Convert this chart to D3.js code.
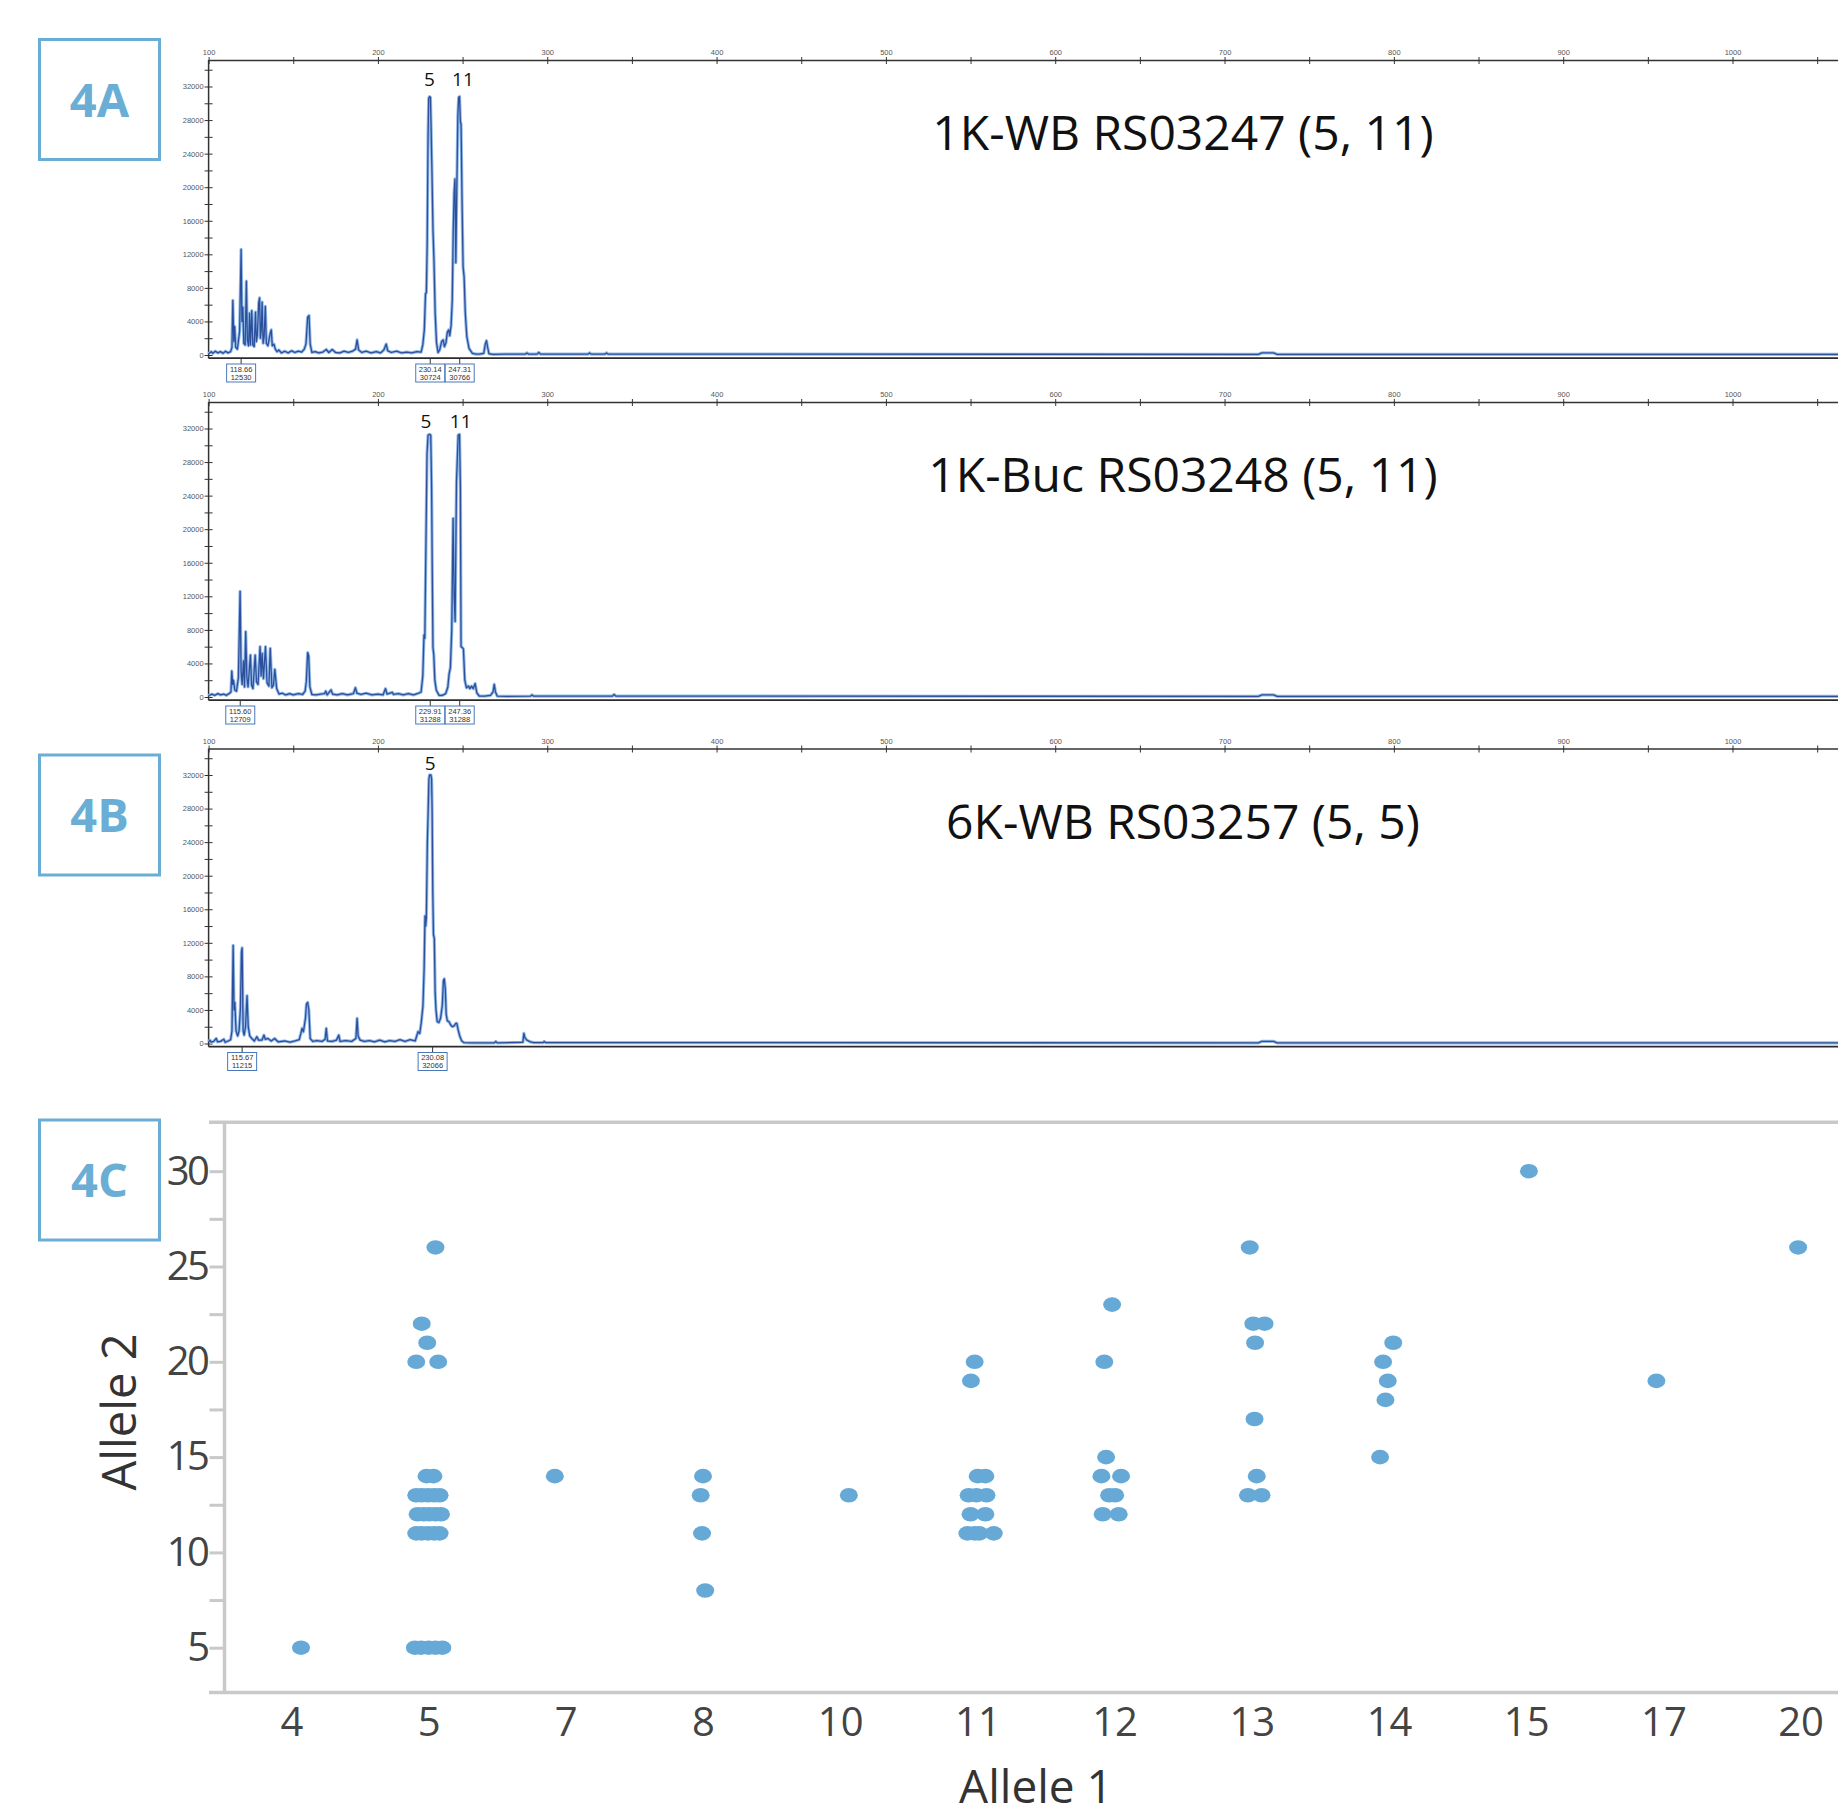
<!DOCTYPE html>
<html>
<head>
<meta charset="utf-8">
<script src="https://cdn.jsdelivr.net/npm/d3@7"></script>
<style>
  body { margin: 0; background: #fff; }
  svg { display: block; font-family: "Open Sans", sans-serif; }
</style>
</head>
<body>
<script>
//electropherogram traces, [size in bp, height in rfu]
const traceWB1 = [
  [100,150],[101.5,400],[102.5,200],[104,450],[105.5,250],[107,400],[108.5,200],[110,450],[111.5,250],[113,400],
  [113.8,900],[114.3,6500],[114.9,1600],[115.4,3400],[116,900],[117,700],[118.3,2800],[119.2,12600],[119.7,4000],
  [120.2,5700],[120.8,1400],[121.6,1200],[122.3,8800],[122.9,1800],[123.6,1100],[124.2,5000],[124.7,1200],[125.5,5300],
  [126.1,1200],[126.9,1000],[127.7,5100],[128.2,1600],[128.8,2400],[129.6,6200],[130.1,6800],[130.6,2000],[131.1,3000],
  [131.6,6300],[132.2,1400],[132.8,2200],[133.5,5800],[134.1,1400],[135,1100],[136.3,2500],[137,3000],[137.6,1100],
  [138.6,1300],[139.4,700],[140.4,400],[141.5,600],[143,250],[145,450],[147,250],[149,500],[151,300],[153,450],[155,350],
  [156.5,700],[157.5,1300],[158.5,4500],[159.3,4700],[160,1300],[161,300],[163,400],[165,250],[167.5,350],[169.5,650],
  [171,300],[173,650],[175,300],[177.5,250],[180,450],[182.5,300],[185,450],[186.8,700],[187.7,1800],[188.6,600],
  [190.5,300],[193,450],[196,250],[199,400],[201.5,250],[203.5,600],[204.9,1300],[205.8,500],[208,300],[211,450],
  [214,250],[217,350],[220,250],[223,400],[225.5,350],
  [226.5,1200],[227.4,3000],[228.1,7300],[228.6,7400],[229.1,13300],[229.6,26000],[230,30600],[230.5,30800],[231,30700],
  [231.4,27200],[231.9,22000],[232.5,15000],[233.1,11300],[233.8,5000],[234.6,1500],[235.5,300],
  [236.5,600],[237.6,1600],[238.5,1800],[239.3,1000],[240.2,1500],[241,2700],[241.8,3000],[242.4,2300],[243.2,3500],
  [243.9,6500],[244.5,15000],[245,19300],[245.5,21000],[246,11000],[246.6,20000],[247.2,28500],[247.7,30700],[248.2,30800],
  [248.7,27800],[249.1,27500],[249.7,18000],[250.3,10500],[250.9,9300],[251.6,5000],[252.5,2200],[253.8,800],[255.8,200],
  [258,100],[260,100],[262.5,200],[263.4,1300],[264.1,1700],[264.8,900],[265.6,150],[268,80],[275,100],
  [287,100],[288,250],[289,100],[294,100],[295,300],[296,100],[324,100],[325,250],[326,100],[334,100],[335,250],[336,100],
  [720,80],[722,250],[729,250],[731,80],[1062.3,80]
];
const traceBuc1 = [
  [100,150],[102,350],[103.5,200],[105.5,400],[107,250],[109,350],[110.5,200],[112,400],[113.2,600],
  [113.7,3100],[114.2,1500],[114.7,2000],[115.5,800],[116.5,700],[117.6,2300],[118.6,12600],[119.2,3000],[119.8,1500],
  [120.6,4300],[121.2,1200],[121.9,7800],[122.6,2400],[123.3,1200],[124.7,5000],[125.4,1400],[126.2,1000],[127.5,5000],
  [128.3,1800],[129.2,1500],[130.4,6000],[131,2500],[131.6,5200],[132.4,2200],[133.6,6000],[134.5,1700],[135.6,1300],
  [136.4,5800],[137.4,1100],[138.3,1400],[139.1,3300],[140.2,1000],[141.6,350],[143.5,450],[145.5,250],[148,400],
  [150,250],[153,400],[155.5,300],[157,700],[157.7,1800],[158.5,5300],[159.1,4900],[159.8,1200],[161,300],[163.5,250],
  [166,350],[168.5,400],[169.2,700],[170,250],[172.3,850],[173.2,350],[176,250],[179,400],[182,250],[185.5,400],
  [186.7,1100],[187.6,450],[190,300],[193,450],[196.5,250],[200,350],[203,250],[204.5,1000],[205.4,350],[208.5,550],
  [209.2,300],[212,400],[215,250],[218,400],[221,250],[224,450],[225.5,600],
  [226.5,2500],[227.2,7400],[227.7,7000],[228.4,19000],[229,29000],[229.6,31200],[230.4,31300],[231.2,31200],[231.7,25000],
  [232.1,15000],[232.5,5900],[233,5000],[233.6,2000],[234.5,800],[236.1,200],[238,200],[240,400],[241.3,1200],[242,2700],
  [242.8,3500],[243.6,8000],[244.4,21300],[245,12000],[245.6,9000],[246.4,25700],[247,29000],[247.4,31200],[248.2,31300],
  [248.7,25000],[249.1,6000],[249.8,5900],[250.5,5700],[251.3,2000],[252.3,1100],[253.5,1300],[254.3,1000],[255.3,1300],
  [256.3,1000],[257.4,1600],[258.4,500],[259.8,120],[263,100],[266.5,200],[268,600],[268.7,1500],[269.4,600],[270.5,100],
  [276,80],[290,100],[291,250],[292,100],[338.5,100],[339.5,300],[340.5,100],
  [720,80],[722,250],[729,250],[731,80],[1062.3,80]
];
const traceWB6 = [
  [100,200],[100.8,400],[101.5,150],[103,250],[104.5,600],[105.3,200],[107,250],[109,500],[109.8,150],[111.5,300],
  [113,450],[113.8,1500],[114.5,11700],[115,4000],[115.5,4900],[116.2,1500],[117.2,900],[118,1500],[118.8,4200],
  [119.4,10900],[119.8,11400],[120.4,1500],[121,1000],[121.8,2000],[122.7,5700],[123.4,2000],[124.3,900],[125.5,600],
  [127,300],[128.5,800],[129.5,400],[131.5,400],[132.7,1000],[133.5,500],[135,600],[137,300],[139,600],[141,200],
  [145,300],[148,150],[151,300],[153.5,450],[154.5,1200],[155.2,1800],[156,1400],[157.2,3000],[157.8,4700],[158.5,4900],
  [159.2,4000],[160,600],[161.5,250],[164,350],[167,250],[168.8,500],[169.5,1800],[170.2,300],[173,250],[175.5,400],
  [176.9,1000],[177.6,250],[181,350],[184.5,250],[187,600],[187.7,3000],[188.3,900],[189.5,400],[192,250],[195,350],
  [198,200],[201,400],[204,200],[207,350],[210,250],[213,450],[216,250],[219,450],[222,300],[223.7,1400],[224.7,1200],
  [225.6,2500],[226.6,4500],[227.3,9000],[227.8,15200],[228.2,14000],[228.6,15000],[229.2,24000],[229.7,27900],
  [230.1,31500],[230.5,32000],[231.3,32000],[231.7,31500],[232,28000],[232.4,18000],[232.8,13000],[233.3,12500],
  [233.8,6000],[234.3,4000],[235,2600],[236,2500],[237,3000],[238,4500],[238.7,7500],[239.2,7700],[239.8,6500],
  [240.3,3500],[241,2700],[242,2600],[243,2200],[244,2000],[245,2100],[246,2400],[246.6,2400],[247.3,1700],[248.3,900],
  [249.5,300],[250.9,100],[255,80],[268.8,80],[269.6,250],[270.4,80],[285.6,150],[286.2,1200],[286.8,700],[288,400],
  [290,200],[292,100],[297.5,100],[298.2,250],[299,100],
  [720,80],[722,250],[729,250],[731,80],[1062.3,80]
];

//called peaks under each trace
const peaksWB1 = [
  { bp: 119.2, size: "118.66", height: "12530" },
  { bp: 230.9, size: "230.14", height: "30724" },
  { bp: 248.3, size: "247.31", height: "30766" }
];
const peaksBuc1 = [
  { bp: 118.7, size: "115.60", height: "12709" },
  { bp: 230.9, size: "229.91", height: "31288" },
  { bp: 248.3, size: "247.36", height: "31288" }
];
const peaksWB6 = [
  { bp: 119.8, size: "115.67", height: "11215" },
  { bp: 232.3, size: "230.08", height: "32066" }
];

//allele names written over the peaks
const allelesWB1 = [{ bp: 230.4, name: "5" }, { bp: 250.2, name: "11" }];
const allelesBuc1 = [{ bp: 228.4, name: "5" }, { bp: 248.9, name: "11" }];
const allelesWB6 = [{ bp: 230.8, name: "5" }];

const sampleTitles = ["1K-WB RS03247 (5, 11)", "1K-Buc RS03248 (5, 11)", "6K-WB RS03257 (5, 5)"];
const panelLetters = ["4A", "4B", "4C"];
const sizeTicks = [100, 200, 300, 400, 500, 600, 700, 800, 900, 1000];
const rfuTicks = [0, 4000, 8000, 12000, 16000, 20000, 24000, 28000, 32000];

//genotypes: [allele 1, allele 2, horizontal jitter in steps]
const allele1Categories = [4, 5, 7, 8, 10, 11, 12, 13, 14, 15, 17, 20];
const allele2Ticks = [5, 10, 15, 20, 25, 30];
const genotypes = [
  [4,5,0.07],
  [5,26,0.05],[5,22,-0.05],[5,21,-0.01],[5,20,-0.09],[5,20,0.07],
  [5,14,-0.015],[5,14,0.035],
  [5,13,-0.09],[5,13,-0.05],[5,13,-0.005],[5,13,0.04],[5,13,0.08],
  [5,12,-0.08],[5,12,-0.035],[5,12,0.005],[5,12,0.05],[5,12,0.09],
  [5,11,-0.09],[5,11,-0.05],[5,11,-0.005],[5,11,0.04],[5,11,0.08],
  [5,5,-0.1],[5,5,-0.055],[5,5,0],[5,5,0.05],[5,5,0.1],
  [7,14,-0.08],
  [8,14,0],[8,13,-0.017],[8,11,-0.007],[8,8,0.016],
  [10,13,0.063],
  [11,20,-0.02],[11,19,-0.047],[11,14,0.002],[11,14,0.058],[11,13,-0.064],[11,13,-0.007],[11,13,0.066],
  [11,12,-0.05],[11,12,0.058],[11,11,-0.073],[11,11,-0.02],[11,11,0.014],[11,11,0.119],
  [12,23,-0.018],[12,20,-0.075],[12,15,-0.062],[12,14,-0.096],[12,14,0.047],[12,13,-0.04],[12,13,0.004],
  [12,12,-0.087],[12,12,0.03],
  [13,26,-0.015],[13,22,0.011],[13,22,0.093],[13,21,0.024],[13,17,0.02],[13,14,0.036],[13,13,-0.028],[13,13,0.071],
  [14,21,0.031],[14,20,-0.043],[14,19,-0.009],[14,18,-0.026],[14,15,-0.065],
  [15,30,0.02],
  [17,19,-0.051],
  [20,26,-0.018]
];

const blue = "#67a9d6";
const width = 1838;
const height = 1817;

const svg = d3.select("body")
  .append("svg")
  .attr("width", width)
  .attr("height", height);

//shared size scale of the three electropherograms
const sizeScale = d3.scaleLinear().domain([100, 1062.3]).range([208.6, 1838]);

const panels = [
  { top: 60, trace: traceWB1, peaks: peaksWB1, alleles: allelesWB1, labelRfu: 32100 },
  { top: 402, trace: traceBuc1, peaks: peaksBuc1, alleles: allelesBuc1, labelRfu: 32100 },
  { top: 748.5, trace: traceWB6, peaks: peaksWB6, alleles: allelesWB6, labelRfu: 32600 }
];

panels.forEach((p, i) => drawTrace(p, sampleTitles[i]));

function drawTrace(p, title) {
  const g = svg.append("g");
  const zeroY = p.top + 295;
  const rfu = d3.scaleLinear().domain([0, 32000]).range([zeroY, p.top + 26.5]);

  //top axis with size in bp
  const topAxis = d3.axisTop(sizeScale)
    .tickValues(d3.range(100, 1051, 50))
    .tickFormat(d => (sizeTicks.includes(d) ? d : ""))
    .tickSizeInner(3)
    .tickSizeOuter(0)
    .tickPadding(2);
  const ta = g.append("g").attr("transform", `translate(0,${p.top})`).call(topAxis);
  ta.select(".domain").attr("stroke", "#333").attr("stroke-width", 1.5);
  ta.selectAll(".tick line").attr("y1", 4).attr("stroke", "#333");
  ta.selectAll(".tick text")
    .attr("font-size", 7.5)
    .attr("font-family", "Liberation Sans, sans-serif")
    .attr("fill", "#555");

  //left axis with rfu
  const leftAxis = d3.axisLeft(rfu)
    .tickValues(d3.range(0, 34001, 2000))
    .tickFormat(d => (rfuTicks.includes(d) ? d : ""))
    .tickSizeInner(4)
    .tickSizeOuter(0)
    .tickPadding(1);
  const la = g.append("g").attr("transform", `translate(${sizeScale(100)},0)`).call(leftAxis);
  la.select(".domain").remove();
  la.selectAll(".tick line").attr("x1", 4).attr("stroke", "#333");
  la.selectAll(".tick text")
    .attr("font-size", 7.5)
    .attr("font-family", "Liberation Sans, sans-serif")
    .attr("fill", "#555");
  g.append("line")
    .attr("x1", sizeScale(100)).attr("x2", sizeScale(100))
    .attr("y1", p.top).attr("y2", zeroY + 3.2)
    .attr("stroke", "#333").attr("stroke-width", 1.5);

  //bottom axis
  g.append("line")
    .attr("x1", sizeScale(100)).attr("x2", width)
    .attr("y1", zeroY + 3.2).attr("y2", zeroY + 3.2)
    .attr("stroke", "#2b2b2b").attr("stroke-width", 1.8);

  //trace, light halo under a dark line
  const line = d3.line().x(d => sizeScale(d[0])).y(d => rfu(d[1]));
  g.append("path")
    .datum(p.trace)
    .attr("d", line)
    .attr("fill", "none")
    .attr("stroke", "#94bbe8")
    .attr("stroke-width", 3.2)
    .attr("stroke-linejoin", "round");
  g.append("path")
    .datum(p.trace)
    .attr("d", line)
    .attr("fill", "none")
    .attr("stroke", "#2c4f9c")
    .attr("stroke-width", 1.3)
    .attr("stroke-linejoin", "round");

  //peak boxes under the axis
  const box = g.selectAll(".peak-box").data(p.peaks).enter()
    .append("g")
    .attr("class", "peak-box")
    .attr("transform", d => `translate(${sizeScale(d.bp)},${zeroY})`);
  box.append("line")
    .attr("y1", 3.2).attr("y2", 9)
    .attr("stroke", "#333");
  box.append("rect")
    .attr("x", -14.5).attr("y", 9)
    .attr("width", 29).attr("height", 18)
    .attr("fill", "#fff")
    .attr("stroke", "#4a78bb");
  box.append("text")
    .attr("y", 16.5)
    .attr("text-anchor", "middle")
    .attr("font-size", 7.5)
    .attr("font-family", "Liberation Sans, sans-serif")
    .attr("fill", "#333")
    .text(d => d.size);
  box.append("text")
    .attr("y", 24.5)
    .attr("text-anchor", "middle")
    .attr("font-size", 7.5)
    .attr("font-family", "Liberation Sans, sans-serif")
    .attr("fill", "#333")
    .text(d => d.height);

  //allele names
  g.selectAll(".allele").data(p.alleles).enter()
    .append("text")
    .attr("class", "allele")
    .attr("x", d => sizeScale(d.bp))
    .attr("y", rfu(p.labelRfu))
    .attr("text-anchor", "middle")
    .attr("font-size", 19)
    .attr("fill", "#111")
    .text(d => d.name);

  //sample title
  g.append("text")
    .attr("x", 1183)
    .attr("y", p.top + 90)
    .attr("text-anchor", "middle")
    .attr("font-size", 48)
    .attr("fill", "#111")
    .text(title);
}

//panel letters
const letterTops = [39.5, 755, 1120];
panelLetters.forEach((t, i) => {
  const lg = svg.append("g").attr("transform", `translate(39.5,${letterTops[i]})`);
  lg.append("rect")
    .attr("width", 120).attr("height", 120)
    .attr("fill", "none")
    .attr("stroke", "#6aaed6")
    .attr("stroke-width", 3);
  lg.append("text")
    .attr("x", 60).attr("y", 77)
    .attr("text-anchor", "middle")
    .attr("font-size", 47)
    .attr("font-weight", "bold")
    .attr("fill", "#6aaed6")
    .text(t);
});

//scatter of genotypes
const xAllele = d3.scalePoint().domain(allele1Categories).range([222.8, 1869.2]).padding(0.5);
const yAllele = d3.scaleLinear().domain([5, 30]).range([1647.7, 1171.2]);
const frameTop = 1122.2;
const frameBottom = 1692.5;
const axisX = 224.5;
const grey = "#c9c9c9";

const sg = svg.append("g");
sg.append("line")
  .attr("x1", 209).attr("x2", width).attr("y1", frameTop).attr("y2", frameTop)
  .attr("stroke", grey).attr("stroke-width", 3.5);
sg.append("line")
  .attr("x1", 209).attr("x2", width).attr("y1", frameBottom).attr("y2", frameBottom)
  .attr("stroke", grey).attr("stroke-width", 3.5);
sg.append("line")
  .attr("x1", axisX).attr("x2", axisX).attr("y1", frameTop).attr("y2", frameBottom)
  .attr("stroke", grey).attr("stroke-width", 3.5);

const yAxis = d3.axisLeft(yAllele)
  .tickValues(d3.range(5, 30.1, 2.5))
  .tickFormat(d => (allele2Ticks.includes(d) ? d : ""))
  .tickSize(15)
  .tickPadding(2);
const ya = sg.append("g").attr("transform", `translate(${axisX},0)`).call(yAxis);
ya.select(".domain").remove();
ya.selectAll(".tick line").attr("stroke", grey).attr("stroke-width", 3);
ya.selectAll(".tick text")
  .attr("font-size", 40)
  .attr("font-family", "Open Sans, sans-serif")
  .attr("letter-spacing", -2.5)
  .attr("fill", "#444");

const xAxis = d3.axisBottom(xAllele).tickSize(0).tickPadding(15);
const xa = sg.append("g").attr("transform", `translate(0,${frameBottom})`).call(xAxis);
xa.select(".domain").remove();
xa.selectAll(".tick text")
  .attr("font-size", 40)
  .attr("font-family", "Open Sans, sans-serif")
  .attr("fill", "#444");

sg.selectAll(".dot").data(genotypes).enter()
  .append("ellipse")
  .attr("class", "dot")
  .attr("cx", d => xAllele(d[0]) + d[2] * xAllele.step())
  .attr("cy", d => yAllele(d[1]))
  .attr("rx", 9)
  .attr("ry", 7.3)
  .attr("fill", blue);

//axis titles
sg.append("text")
  .attr("transform", "translate(136,1412) rotate(-90)")
  .attr("text-anchor", "middle")
  .attr("font-size", 47)
  .attr("fill", "#333")
  .text("Allele 2");
sg.append("text")
  .attr("x", 1036)
  .attr("y", 1803)
  .attr("text-anchor", "middle")
  .attr("font-size", 46)
  .attr("fill", "#333")
  .text("Allele 1");
</script>
</body>
</html>
